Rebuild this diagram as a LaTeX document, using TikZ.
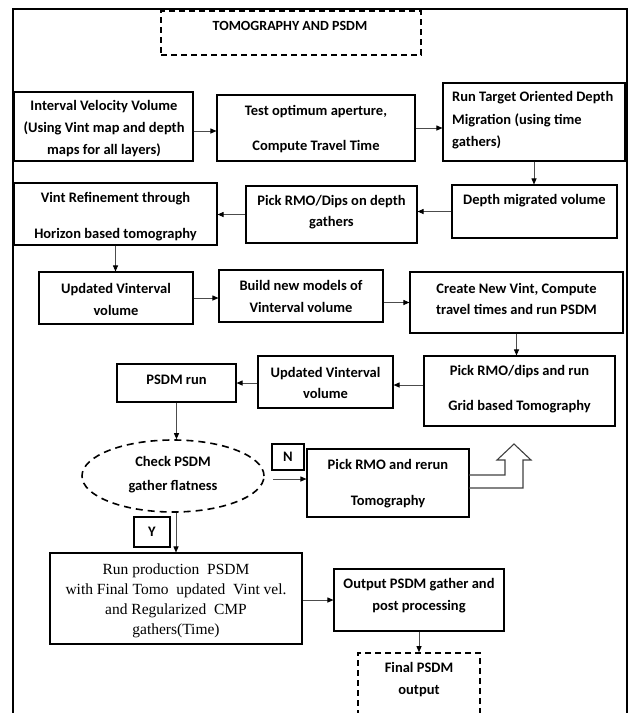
\documentclass[tikz,border=0pt]{standalone}
\usepackage{fontspec}
\setmainfont{Carlito}
\newfontfamily\serifx{Liberation Serif}
\usetikzlibrary{arrows.meta,fit,shapes.geometric}
\begin{document}
\begin{tikzpicture}[x=1pt,y=-1pt,
  box/.style={draw=black,line width=1.1pt,inner sep=0pt},
  dbox/.style={draw=black,line width=1.6pt,dash pattern=on 6pt off 4pt,inner sep=0pt},
  tx/.style={font=\fontsize{14.5}{#1}\selectfont\bfseries,align=center,inner sep=0pt},
  tx/.default=22,
  arr/.style={draw=black!70,line width=0.9pt,-{Triangle[length=6pt,width=5pt,color=black]}},
]
\useasboundingbox (0,0) rectangle (630,713);
% outer frame
\draw[line width=1.3pt] (13,713) -- (13,9) -- (627,9) -- (627,713);
% title
\node[dbox,fit={(161,11)(421,55)}] (title) {};
\node[font=\fontsize{14}{16}\selectfont\bfseries,inner sep=0pt] (titletxt) at (290,26) {TOMOGRAPHY AND PSDM};
% row 1
\node[box,fit={(14,92)(193,161)}] (b1) {};
\node[tx] (b1t) at (104,129) {Interval Velocity Volume\\(Using Vint map and depth\\maps for all layers)};
\node[box,fit={(217,95)(415,161)}] (b2) {};
\node[tx=35] (b2t) at (316,129.5) {Test optimum aperture,\\Compute Travel Time};
\node[box,fit={(443,83)(625,161)}] (b3) {};
\node[tx=22.5,align=left,anchor=west] (b3t) at (452,120.5) {Run Target Oriented Depth\\Migration (using time\\gathers)};
% row 2
\node[box,fit={(452,185)(617,238)}] (dm) {};
\node[tx] (dmt) at (534.5,201) {Depth migrated volume};
\node[box,fit={(246,186)(417,243)}] (pick) {};
\node[tx=21] (pickt) at (331.5,212.5) {Pick RMO/Dips on depth\\gathers};
\node[box,fit={(14,183)(217,245)}] (vint) {};
\node[tx=36] (vintt) at (115.5,217) {Vint Refinement through\\Horizon based tomography};
% row 3
\node[box,fit={(39,272)(193,324)}] (upd1) {};
\node[tx] (upd1t) at (116,299) {Updated Vinterval\\volume};
\node[box,fit={(219,270)(383,322)}] (build) {};
\node[tx] (buildt) at (301,296) {Build new models of\\Vinterval volume};
\node[box,fit={(410,272)(623,333)}] (create) {};
\node[tx=21] (createt) at (516.5,298.5) {Create New Vint, Compute\\travel times and run PSDM};
% row 4
\node[box,fit={(424,356)(615,426)}] (grid) {};
\node[tx=35] (gridt) at (519.5,389.5) {Pick RMO/dips and run\\Grid based Tomography};
\node[box,fit={(258,356)(393,408)}] (upd2) {};
\node[tx=21] (upd2t) at (325.5,382.5) {Updated Vinterval\\volume};
\node[box,fit={(117,364)(236,402)}] (run) {};
\node[tx] (runt) at (176.5,380) {PSDM run};
% decision
\node[ellipse,draw=black,line width=1.6pt,dash pattern=on 7pt off 5pt,minimum width=182pt,minimum height=72pt,inner sep=0pt] (chk) at (173,476) {};
\node[tx=24] (chkt) at (173,475) {Check PSDM\\gather flatness};
\node[box,fit={(272,444)(304,470)}] (nbox) {};
\node[tx] (nt) at (288,457) {N};
\node[box,fit={(307,449)(469,517)}] (rerun) {};
\node[tx=36] (reruntt) at (388,484) {Pick RMO and rerun\\Tomography};
\node[box,fit={(134,517)(170,547)}] (ybox) {};
\node[tx] (yt) at (152,532) {Y};
% bottom
\node[box,fit={(50,553)(302,644)}] (big) {};
\node[font=\fontsize{15.5}{20}\serifx,align=center,inner sep=0pt] (bigt) at (176,600.5) {Run production~~PSDM\\with Final Tomo~~updated~~Vint vel.\\and Regularized~~CMP\\gathers(Time)};
\node[box,fit={(334,569)(504,631)}] (out) {};
\node[tx] (outt) at (419,596) {Output PSDM gather and\\post processing};
\node[dbox,fit={(358,653)(480,722)}] (final) {};
\node[tx] (finalt) at (419,680) {Final PSDM\\output};
% hollow up arrow
\draw[line width=1.1pt,draw=black!75] (469,475) -- (505,475) -- (505,460) -- (497,460) -- (514,444) -- (531,460) -- (523,460) -- (523,488) -- (469,488);
% helper points
\coordinate (p1) at ([yshift=-4.5pt]b1.east);
\coordinate (p2) at ([yshift=-3pt]upd2.east);
\coordinate (p3) at ([xshift=8pt,yshift=-3pt]chk.east);
% connectors
\draw[arr] (p1) -- (b2.west |- p1);
\draw[arr] (b2.east) -- (b3.west |- b2.east);
\draw[arr] (b3.south) -- (b3.south |- dm.north);
\draw[arr] (dm.west) -- (pick.east |- dm.west);
\draw[arr] (pick.west) -- (vint.east |- pick.west);
\draw[arr] (vint.south) -- (vint.south |- upd1.north);
\draw[arr] (upd1.east) -- (build.west |- upd1.east);
\draw[arr] (build.east |- create.west) -- (create.west);
\draw[arr] (create.south) -- (create.south |- grid.north);
\draw[arr] (grid.west |- p2) -- (p2);
\draw[arr] (upd2.west |- run.east) -- (run.east);
\draw[arr] (run.south) -- (run.south |- chk.north);
\draw[arr] (p3) -- (rerun.west |- p3);
\draw[arr] (big.north |- chk.south) -- (big.north);
\draw[arr] (big.east |- out.west) -- (out.west);
\draw[arr] (out.south) -- (out.south |- final.north);
\end{tikzpicture}
\end{document}
